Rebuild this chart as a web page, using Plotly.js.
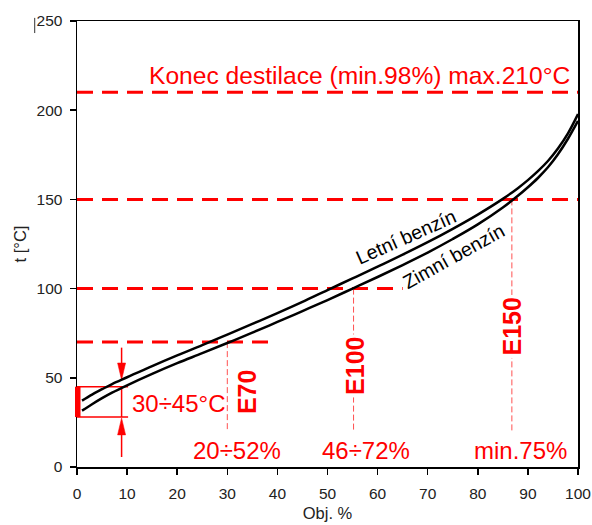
<!DOCTYPE html>
<html><head><meta charset="utf-8">
<script src="https://cdn.plot.ly/plotly-3.0.1.min.js"></script>
<style>html,body{margin:0;padding:0;background:#fff}#chart{width:592px;height:525px}</style>
</head><body><div id="chart"></div>
<script>
// ---- data ----
const volPct = [1, 3, 5, 7, 10, 15, 20, 25, 30, 35, 40, 45, 50, 55, 60, 65, 70, 75, 80, 85, 88, 90, 92, 94, 96, 98, 100];
const letniT = [37.2, 40.6, 43.6, 46.5, 50.3, 56.6, 62.6, 68.3, 74.2, 80.2, 86.3, 92.6, 99.2, 105.7, 112.3, 119, 126, 133.5, 141.5, 150.3, 156.3, 160.8, 165.8, 171.5, 178.5, 187, 197.8];
const zimniT = [31.6, 35.2, 38.6, 41.7, 45.8, 52.2, 58.2, 63.8, 69.5, 75.3, 81.3, 87.4, 93.6, 100, 106.5, 113.2, 120.2, 127.8, 136, 145.5, 152, 156.8, 162, 168, 175.3, 184, 194];
const curveNames = ['Letní benzín', 'Zimní benzín'];
const curveLabelX = [65.5, 75.2];
const curveLabelT = [129.2, 118.5];

const limitT = [210, 150, 100, 70];
const limitXEnd = [100, 100, 65, 39.5];
const limitText = 'Konec destilace (min.98%) max.210°C';
const limitTextX = 98.9;
const limitTextT = 219.7;

const eX = [30, 55.2, 86.8];
const eTop = [70, 100, 150];
const eBottom = 20.5;
const eLabels = ['E70', 'E100', 'E150'];
const eLabelX = [33.9, 55.5, 86.8];
const eLabelT = [41.9, 56.7, 78.7];
const rangeLabels = ['20÷52%', '46÷72%', 'min.75%'];
const rangeX = [32, 57.6, 88.6];
const rangeT = 9.3;

const startT = [28, 45];          // bracket of the 30÷45°C start
const bracketXEnd = 10.2;
const arrowX = 8.9;
const arrowTips = [48.8, 27.5];
const arrowTails = [66.9, 5.6];
const startText = '30÷45°C';
const startTextX = 20.3;
const startTextT = 35.4;

// ---- traces ----
const RED = '#ff0000';
const traces = [];
limitT.forEach((t, i) => {
  traces.push({x: [0, limitXEnd[i]], y: [t, t], mode: 'lines', hoverinfo: 'skip',
    line: {color: RED, width: 3, dash: '16px,9px'}});
});
eX.forEach((x, i) => {
  traces.push({x: [x, x], y: [eTop[i], eBottom], mode: 'lines', hoverinfo: 'skip',
    line: {color: '#ff5050', width: 1, dash: '6px,3px'}});
});
// bracket
traces.push({x: [0, bracketXEnd, null, 0, bracketXEnd, null, arrowX, arrowX],
  y: [startT[1], startT[1], null, startT[0], startT[0], null, startT[0], startT[1]],
  mode: 'lines', hoverinfo: 'skip', line: {color: RED, width: 1.5}});
// arrows
const headLen = 9.5, headHalf = 0.8;
arrowTips.forEach((tip, i) => {
  const dir = arrowTails[i] > tip ? 1 : -1;
  traces.push({x: [arrowX, arrowX], y: [arrowTails[i], tip + dir * headLen * 0.5], mode: 'lines',
    hoverinfo: 'skip', line: {color: RED, width: 1.5}});
  traces.push({x: [arrowX - headHalf, arrowX + headHalf, arrowX, arrowX - headHalf],
    y: [tip + dir * headLen, tip + dir * headLen, tip, tip + dir * headLen],
    mode: 'lines', fill: 'toself', fillcolor: RED, hoverinfo: 'skip', line: {color: RED, width: 0.5}});
});
// curves
[letniT, zimniT].forEach((ys, i) => {
  traces.push({x: volPct, y: ys, name: curveNames[i], mode: 'lines', hoverinfo: 'skip',
    line: {color: '#000', width: 2.5, shape: 'spline', smoothing: 1}});
});

// ---- annotations ----
const FONT = 'Liberation Sans, Arial, sans-serif';
const ann = [];
ann.push({x: limitTextX, y: limitTextT, text: limitText, showarrow: false, xanchor: 'right', yanchor: 'middle',
  font: {family: FONT, size: 24.6, color: RED}});
eLabels.forEach((s, i) => {
  ann.push({x: eLabelX[i], y: eLabelT[i], text: '<b>' + s + '</b>', showarrow: false, textangle: -90,
    xanchor: 'center', yanchor: 'middle', bgcolor: i === 0 ? 'rgba(0,0,0,0)' : '#ffffff', borderpad: 2,
    font: {family: FONT, size: 25, color: RED}});
});
rangeLabels.forEach((s, i) => {
  ann.push({x: rangeX[i], y: rangeT, text: s, showarrow: false, xanchor: 'center', yanchor: 'middle',
    font: {family: FONT, size: 24, color: RED}});
});
ann.push({x: startTextX, y: startTextT, text: startText, showarrow: false, xanchor: 'center', yanchor: 'middle',
  font: {family: FONT, size: 24, color: RED}});
curveNames.forEach((s, i) => {
  ann.push({x: curveLabelX[i], y: curveLabelT[i], text: s, showarrow: false, textangle: i === 0 ? -24 : -29,
    xanchor: 'center', yanchor: 'middle', font: {family: FONT, size: 19.5, color: '#000'}});
});

const axisCommon = {showgrid: false, zeroline: false, showline: true, linecolor: '#000', linewidth: 1.5,
  mirror: true, ticks: 'outside', ticklen: 6, tickwidth: 1.5, tickcolor: '#000', fixedrange: true,
  tickfont: {family: FONT, size: 15.5, color: '#222'}};

const layout = {
  width: 592, height: 525,
  margin: {l: 77, r: 14, t: 21, b: 58},
  paper_bgcolor: '#fff', plot_bgcolor: '#fff',
  showlegend: false,
  font: {family: FONT, size: 16, color: '#222'},
  xaxis: Object.assign({}, axisCommon, {range: [0, 100], tick0: 0, dtick: 10, ticklabelstandoff: 6,
    title: {text: 'Obj. %', standoff: 6, font: {family: FONT, size: 16.5, color: '#222'}}}),
  yaxis: Object.assign({}, axisCommon, {range: [0, 250], tick0: 0, dtick: 50, ticklabelstandoff: 4,
    title: {text: 't [°C]', standoff: 6, font: {family: FONT, size: 16.5, color: '#222'}}}),
  annotations: ann,
  shapes: [
    {type: 'rect', xref: 'paper', yref: 'y', x0: -0.004, x1: 0.007, y0: startT[0], y1: startT[1],
      fillcolor: RED, line: {width: 0}, layer: 'above'},
    {type: 'line', xref: 'paper', yref: 'paper', x0: -0.0844, x1: -0.0844, y0: 0.973, y1: 1.007,
      line: {color: '#333', width: 1}}
  ]
};

Plotly.newPlot('chart', traces, layout, {displayModeBar: false, staticPlot: true});
</script>
</body></html>
